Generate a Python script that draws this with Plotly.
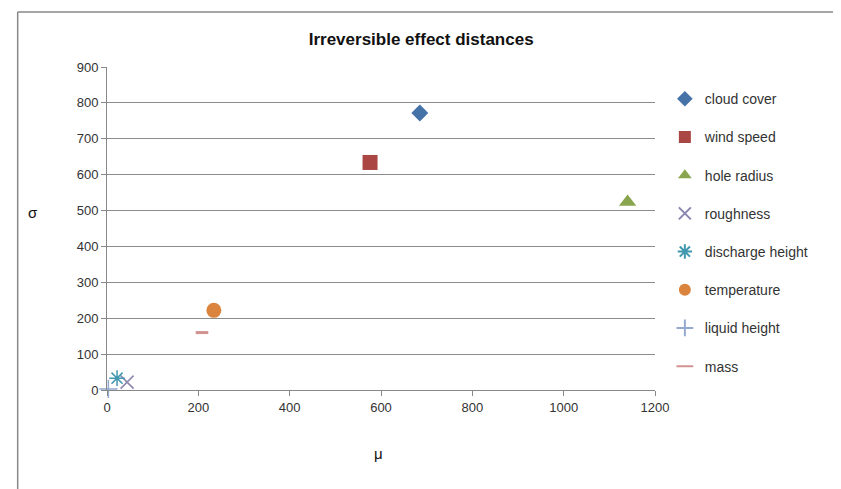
import plotly.graph_objects as go

series_names = ["cloud cover", "wind speed", "hole radius", "roughness",
                "discharge height", "temperature", "liquid height", "mass"]
mu_values = [685, 576, 1140, 44, 22, 234, 3, 208]
sigma_values = [772, 634, 524, 22, 33, 222, 3, 160]

x_ticks = [0, 200, 400, 600, 800, 1000, 1200]
y_ticks = [0, 100, 200, 300, 400, 500, 600, 700, 800, 900]

MARKERS = [
    dict(symbol="diamond", size=13, color="#4572A7"),
    dict(symbol="square", size=15, color="#AA4643"),
    dict(symbol="triangle-up", size=15, color="#89A54E"),
    dict(symbol="x-thin-open", size=13, color="#8A86B0", line=dict(width=1.5, color="#8A86B0")),
    dict(symbol="asterisk-open", size=13, color="#4198AF", line=dict(width=1.5, color="#4198AF")),
    dict(symbol="circle", size=15, color="#DB843D"),
    dict(symbol="cross-thin-open", size=13, color="#93A9CF", line=dict(width=1.5, color="#93A9CF")),
    dict(symbol="line-ew-open", size=9, color="#D19392", line=dict(width=3, color="#D19392")),
]

fig = go.Figure()
for i, name in enumerate(series_names):
    fig.add_trace(go.Scatter(
        x=[mu_values[i]], y=[sigma_values[i]],
        mode="markers", name=name, legendgroup=name,
        marker=MARKERS[i], cliponaxis=False,
    ))

narrow = "Liberation Sans Narrow, Liberation Sans, sans-serif"
axis_font = dict(family=narrow, size=13, color="#333333")

# page body adds ~8px offset, so the figure is drawn slightly smaller
fig.update_layout(
    width=833, height=481,
    margin=dict(l=99, r=186, t=59, b=99),
    plot_bgcolor="#FFFFFF", paper_bgcolor="#FFFFFF",
    title=dict(text="<b>Irreversible effect distances</b>", x=0.496, xanchor="center",
               y=0.935, yanchor="middle",
               font=dict(family=narrow, size=17, color="#111111")),
    xaxis=dict(range=[0, 1200], tickvals=x_ticks, showgrid=False, zeroline=False,
               showline=True, linecolor="#888888", ticks="outside", ticklen=5,
               tickcolor="#888888", tickfont=axis_font),
    yaxis=dict(range=[0, 900], tickvals=y_ticks, showgrid=True, gridcolor="#8C8C8C",
               zeroline=False, showline=True, linecolor="#888888", ticks="outside",
               ticklen=5, tickcolor="#888888", tickfont=axis_font),
    legend=dict(x=1.018, y=0.95, xanchor="left", yanchor="top",
                tracegroupgap=17, itemwidth=30, itemsizing="constant",
                font=dict(family=narrow, size=14, color="#333333")),
    annotations=[
        dict(text="σ", xref="paper", yref="paper", x=-0.148, y=0.55, showarrow=False,
             font=dict(family="Liberation Sans, sans-serif", size=15, color="#111111")),
        dict(text="μ", xref="paper", yref="paper", x=0.495, y=-0.228, showarrow=False,
             font=dict(family="Liberation Sans, sans-serif", size=15, color="#111111")),
    ],
    shapes=[
        dict(type="line", xref="paper", yref="paper", x0=-0.163, x1=1.34, y0=1.17, y1=1.17,
             line=dict(color="#888888", width=1.5)),
        dict(type="line", xref="paper", yref="paper", x0=-0.163, x1=-0.163, y0=1.17, y1=-0.31,
             line=dict(color="#888888", width=1.5)),
    ],
)

fig.write_html("out.html")
